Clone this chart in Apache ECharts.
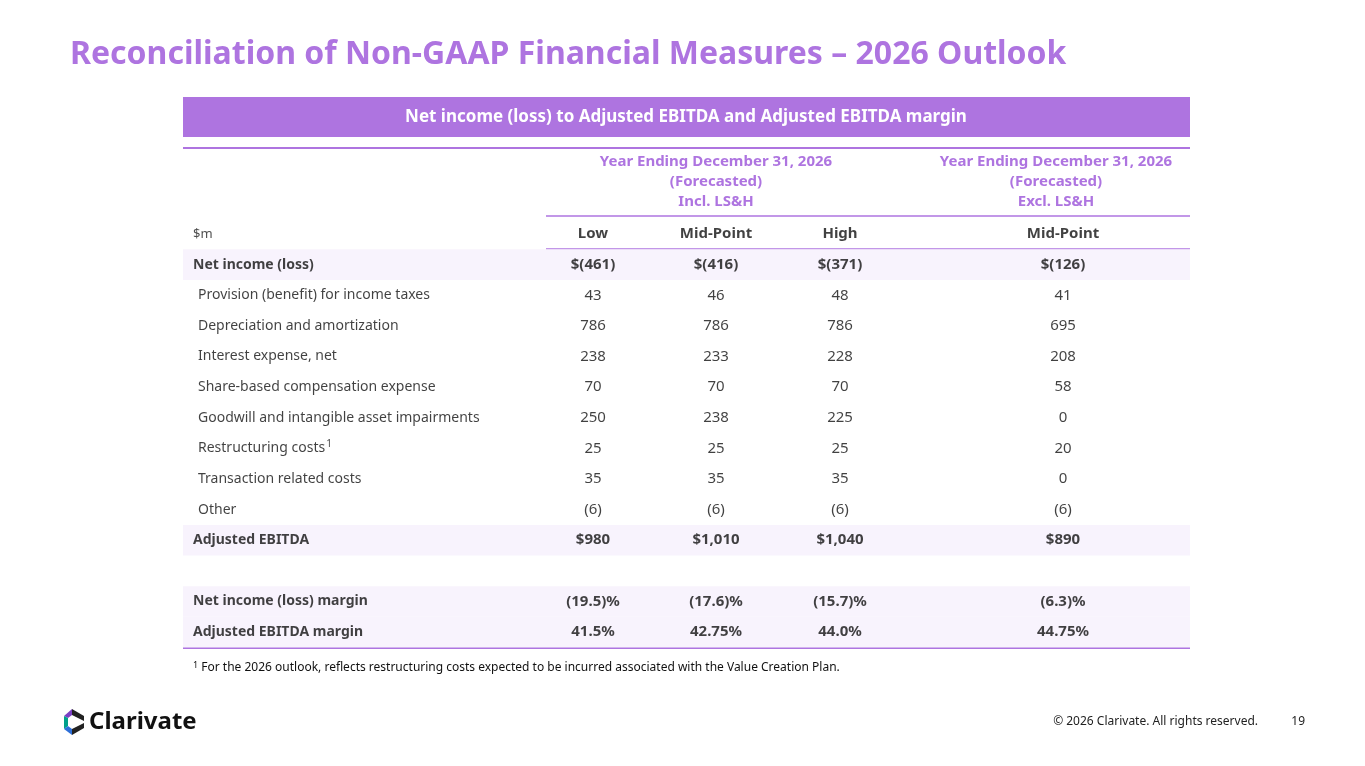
<!DOCTYPE html>
<html>
<head>
<meta charset="utf-8">
<script src="https://cdn.jsdelivr.net/npm/echarts@6/dist/echarts.min.js"></script>
<style>html,body{margin:0;padding:0;background:#fff}#main{width:1365px;height:766px}</style>
</head>
<body>
<div id="main"></div>
<script>
var rowLabels = ['$m', 'Net income (loss)', 'Provision (benefit) for income taxes', 'Depreciation and amortization',
    'Interest expense, net', 'Share-based compensation expense', 'Goodwill and intangible asset impairments',
    'Restructuring costs', 'Transaction related costs', 'Other', 'Adjusted EBITDA', '',
    'Net income (loss) margin', 'Adjusted EBITDA margin'];
var lowVals = ['Low', '$(461)', '43', '786', '238', '70', '250', '25', '35', '(6)', '$980', '', '(19.5)%', '41.5%'];
var midVals = ['Mid-Point', '$(416)', '46', '786', '233', '70', '238', '25', '35', '(6)', '$1,010', '', '(17.6)%', '42.75%'];
var highVals = ['High', '$(371)', '48', '786', '228', '70', '225', '25', '35', '(6)', '$1,040', '', '(15.7)%', '44.0%'];
var exclVals = ['Mid-Point', '$(126)', '41', '695', '208', '58', '0', '20', '0', '(6)', '$890', '', '(6.3)%', '44.75%'];
var boldRows = [1, 10, 12, 13];
var shadedRows = [1, 10, 12, 13];
var groupTitles = [['Year Ending December 31, 2026', '(Forecasted)', 'Incl. LS&H'],
                   ['Year Ending December 31, 2026', '(Forecasted)', 'Excl. LS&H']];

var purple = '#AE74E0';
var font = '"Noto Sans", sans-serif';
var gridLeft = 183, gridW = 1007;
var colX = [410, 533, 657, 880]; // column centres inside grid
var rowKeys = rowLabels.map(function (r, i) { return 'r' + i; });

var myChart = echarts.init(document.getElementById('main'));

var series = [
    {
        type: 'bar', silent: true, barWidth: '100%', z: 1,
        data: rowKeys.map(function (k, i) { return shadedRows.indexOf(i) >= 0 ? gridW : '-'; }),
        itemStyle: { color: '#F8F3FD' }
    },
    {
        type: 'scatter', symbolSize: 0, silent: true, z: 5,
        data: rowLabels.map(function (v, i) {
            return [(i === 0 || boldRows.indexOf(i) >= 0) ? 10 : 15, rowKeys[i], v];
        }),
        label: {
            show: true, position: 'inside', align: 'left', fontFamily: font, fontSize: 14, color: '#111',
            formatter: function (p) {
                var i = rowKeys.indexOf(p.value[1]);
                if (i === 7) return p.value[2] + '{sup|1}';
                if (boldRows.indexOf(i) >= 0) return '{b|' + p.value[2] + '}';
                if (i === 0) return '{s|' + p.value[2] + '}';
                return p.value[2];
            },
            rich: {
                b: { fontWeight: 'bold', fontFamily: font, fontSize: 14, color: '#111' },
                s: { fontFamily: font, fontSize: 13, color: '#222' },
                sup: { fontFamily: font, fontSize: 10, color: '#111', verticalAlign: 'top', padding: [0, 0, 8, 1] }
            }
        }
    }
];
[lowVals, midVals, highVals, exclVals].forEach(function (vals, c) {
    series.push({
        type: 'scatter', symbolSize: 0, silent: true, z: 5,
        data: vals.map(function (v, i) { return [colX[c], rowKeys[i], v]; }),
        label: {
            show: true, position: 'inside', color: '#111', fontFamily: font, fontSize: 15,
            formatter: function (p) {
                var i = rowKeys.indexOf(p.value[1]);
                return (i === 0 || boldRows.indexOf(i) >= 0) ? '{b|' + p.value[2] + '}' : p.value[2];
            },
            rich: { b: { fontWeight: 'bold', fontFamily: font, fontSize: 15, color: '#111' } }
        }
    });
});

var graphics = [
    { type: 'text', left: 70, top: 39, style: { text: 'Reconciliation of Non-GAAP Financial Measures \u2013 2026 Outlook',
        font: 'bold 32px ' + font, fill: purple } },
    { type: 'rect', shape: { x: 183, y: 97, width: 1007, height: 40 }, style: { fill: purple } },
    { type: 'text', x: 686, y: 117, style: { text: 'Net income (loss) to Adjusted EBITDA and Adjusted EBITDA margin',
        font: 'bold 17px ' + font, fill: '#fff', align: 'center', verticalAlign: 'middle' } },
    { type: 'line', shape: { x1: 183, y1: 148, x2: 1190, y2: 148 }, style: { stroke: purple, lineWidth: 2 } },
    { type: 'line', shape: { x1: 546, y1: 216, x2: 1190, y2: 216 }, style: { stroke: purple, lineWidth: 1.5 } },
    { type: 'line', shape: { x1: 546, y1: 249, x2: 1190, y2: 249 }, style: { stroke: purple, lineWidth: 1.5 } },
    { type: 'line', shape: { x1: 183, y1: 648, x2: 1190, y2: 648 }, style: { stroke: purple, lineWidth: 2 } },
    { type: 'text', x: 193, y: 668, style: { text: '{s|1} For the 2026 outlook, reflects restructuring costs expected to be incurred associated with the Value Creation Plan.',
        font: '12px ' + font, fill: '#111', verticalAlign: 'middle',
        rich: { s: { fontSize: 9, fontFamily: font, verticalAlign: 'top', padding: [0, 0, 6, 0] } } } },
    { type: 'text', x: 1258, y: 722, style: { text: '\u00a9 2026 Clarivate. All rights reserved.', font: '12px ' + font,
        fill: '#222', align: 'right', verticalAlign: 'middle' } },
    { type: 'text', x: 1305, y: 722, style: { text: '19', font: '12px ' + font, fill: '#222', align: 'right', verticalAlign: 'middle' } },
    { type: 'polygon', shape: { points: [[64, 716], [72, 709], [72, 715], [68, 718]] }, style: { fill: '#7B3FC4' } },
    { type: 'polygon', shape: { points: [[64, 716], [68, 718], [68, 726], [64, 729]] }, style: { fill: '#00A08A' } },
    { type: 'polygon', shape: { points: [[64, 729], [68, 726], [72, 729], [72, 735]] }, style: { fill: '#2E6FD8' } },
    { type: 'polygon', shape: { points: [[72, 709], [84, 716], [84, 721], [72, 715]] }, style: { fill: '#222' } },
    { type: 'polygon', shape: { points: [[72, 729], [84, 723], [84, 728], [72, 735]] }, style: { fill: '#222' } },
    { type: 'text', x: 89, y: 722, style: { text: 'Clarivate', font: 'bold 24px ' + font, fill: '#111', verticalAlign: 'middle' } }
];
groupTitles.forEach(function (lines, g) {
    var cx = g === 0 ? 716 : 1056;
    lines.forEach(function (t, j) {
        graphics.push({ type: 'text', x: cx, y: 162 + j * 20, style: { text: t, font: 'bold 15px ' + font,
            fill: purple, align: 'center', verticalAlign: 'middle' } });
    });
});

var option = {
    backgroundColor: '#fff',
    animation: false,
    grid: { left: gridLeft, width: gridW, top: 218.7, height: 428.7 },
    xAxis: { type: 'value', min: 0, max: gridW, show: false },
    yAxis: { type: 'category', data: rowKeys, inverse: true, show: false },
    series: series,
    graphic: graphics
};
myChart.setOption(option, true);
</script>
</body>
</html>
